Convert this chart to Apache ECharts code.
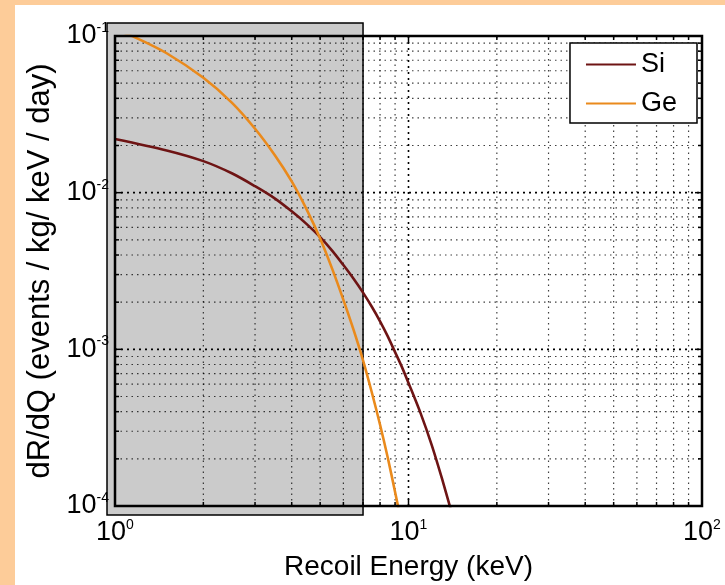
<!DOCTYPE html>
<html>
<head>
<meta charset="utf-8">
<script src="https://cdn.jsdelivr.net/npm/echarts@6/dist/echarts.min.js"></script>
<style>
html,body{margin:0;padding:0;background:#fdcc99;}
#chart{width:725px;height:585px;}
</style>
</head>
<body>
<div id="chart"></div>
<script>
// ---- data ----
const seriesNames = ['Si', 'Ge'];
const siData = [
  [1.0, 0.0220], [1.5, 0.0186], [2.0, 0.0159], [2.5, 0.0133], [3.0, 0.0110],
  [3.5, 0.0092], [4.0, 0.0076], [4.5, 0.0063], [5.0, 0.0052], [5.5, 0.00425],
  [6.0, 0.00345], [6.5, 0.00282], [7.0, 0.00230], [7.5, 0.00187], [8.0, 0.00151],
  [8.5, 0.00121], [9.0, 0.00096], [9.5, 0.00077], [10.0, 0.00061], [11.0, 0.00039],
  [12.0, 0.000245], [13.0, 0.000150], [14.0, 0.000092]
];
const geData = [
  [1.0, 0.110], [1.17, 0.098], [1.5, 0.0776], [2.0, 0.0541], [2.5, 0.0376],
  [3.0, 0.0256], [3.5, 0.0174], [4.0, 0.0118], [4.5, 0.0078], [5.0, 0.0051],
  [5.5, 0.00325], [6.0, 0.00207], [6.5, 0.00133], [7.0, 0.00085], [7.5, 0.00053],
  [8.0, 0.00033], [8.5, 0.000203], [9.0, 0.000123], [9.3, 0.000091]
];
const xTickValues = [1,2,3,4,5,6,7,8,9,10,20,30,40,50,60,70,80,90,100];
const yTickValues = [0.0001,0.0002,0.0003,0.0004,0.0005,0.0006,0.0007,0.0008,0.0009,
  0.001,0.002,0.003,0.004,0.005,0.006,0.007,0.008,0.009,
  0.01,0.02,0.03,0.04,0.05,0.06,0.07,0.08,0.09,0.1];
const xRange = [1, 100];
const yRange = [0.0001, 0.1];
const shadedRange = [1, 7]; // keV, threshold region
const xTitle = 'Recoil Energy (keV)';
const yTitle = 'dR/dQ (events / kg/ keV / day)';

// ---- styles ----
const FONT = 'Liberation Sans';
const siColor = '#6e1414';
const geColor = '#ea8a1c';

function isMajor(v) {
  const l = Math.log10(v);
  return Math.abs(l - Math.round(l)) < 1e-9;
}
function powLabel(v) {
  return '{b|10}{s|' + Math.round(Math.log10(v)) + '}';
}
const richLabel = {
  b: { fontSize: 27, fontFamily: FONT, color: '#000', lineHeight: 30 },
  s: { fontSize: 14, fontFamily: FONT, color: '#000', lineHeight: 14, verticalAlign: 'top', padding: [0, 0, 16, 0] }
};
function gridLineStyle(major) {
  return { stroke: '#000', lineWidth: major ? 1.6 : 1.2, lineDash: major ? [2, 4] : [1.5, 4], opacity: major ? 1 : 0.75 };
}

const chart = echarts.init(document.getElementById('chart'), null, { renderer: 'canvas' });

const option = {
  backgroundColor: '#fdcc99',
  animation: false,
  grid: {
    left: 115, right: 23, top: 36, bottom: 79,
    show: false,
    outerBoundsMode: 'none'
  },
  legend: {
    data: seriesNames,
    orient: 'vertical',
    right: 28, top: 43,
    backgroundColor: '#fff',
    borderColor: '#000', borderWidth: 1.5,
    padding: [8, 20, 6, 16],
    icon: 'rect',
    itemWidth: 50, itemHeight: 2, itemGap: 12, textGap: 16,
    textStyle: { fontSize: 27, fontFamily: FONT, color: '#000', lineHeight: 27 },
    z: 10
  },
  xAxis: {
    type: 'log', logBase: 10, min: xRange[0], max: xRange[1],
    name: xTitle, nameLocation: 'middle', nameGap: 40,
    nameTextStyle: { fontSize: 28, fontFamily: FONT, color: '#000' },
    axisLine: { show: false }, axisTick: { show: false }, splitLine: { show: false },
    axisLabel: { formatter: powLabel, rich: richLabel, margin: 12, color: '#000' }
  },
  yAxis: {
    type: 'log', logBase: 10, min: yRange[0], max: yRange[1],
    name: yTitle, nameLocation: 'middle', nameGap: 57,
    nameTextStyle: { fontSize: 31, fontFamily: FONT, color: '#000' },
    axisLine: { show: false }, axisTick: { show: false }, splitLine: { show: false },
    axisLabel: { formatter: powLabel, rich: richLabel, margin: 6, color: '#000' }
  },
  series: [
    {
      // shaded threshold box (behind everything inside the axes)
      type: 'custom', silent: true, z: 0, clip: false,
      encode: { x: [0, 2], y: [1, 3] },
      data: [[shadedRange[0], yRange[1], shadedRange[1], yRange[0]]],
      renderItem: function (params, api) {
        const a = api.coord([api.value(0), api.value(1)]);
        const b = api.coord([api.value(2), api.value(3)]);
        return { type: 'rect', z2: 0,
          shape: { x: a[0] - 8, y: a[1] - 13, width: b[0] - a[0] + 8, height: b[1] - a[1] + 22 },
          style: { fill: '#cbcbcb', stroke: '#000', lineWidth: 1.5 } };
      }
    },
    {
      type: 'custom', silent: true, z: 1, clip: false,
      data: xTickValues.map(v => [v, yRange[0]]),
      renderItem: function (params, api) {
        const v = api.value(0);
        const p1 = api.coord([v, yRange[1]]);
        const p0 = api.coord([v, yRange[0]]);
        const major = isMajor(v);
        const len = major ? 7 : 4;
        const ch = [];
        if (v > xRange[0] && v < xRange[1]) {
          ch.push({ type: 'line', shape: { x1: p0[0], y1: p0[1], x2: p1[0], y2: p1[1] }, style: gridLineStyle(major) });
        }
        ch.push({ type: 'line', shape: { x1: p0[0], y1: p0[1], x2: p0[0], y2: p0[1] - len }, style: { stroke: '#000', lineWidth: 1.5 } });
        ch.push({ type: 'line', shape: { x1: p1[0], y1: p1[1], x2: p1[0], y2: p1[1] + len }, style: { stroke: '#000', lineWidth: 1.5 } });
        return { type: 'group', children: ch };
      }
    },
    {
      type: 'custom', silent: true, z: 1, clip: false,
      data: yTickValues.map(v => [xRange[0], v]),
      renderItem: function (params, api) {
        const v = api.value(1);
        const p0 = api.coord([xRange[0], v]);
        const p1 = api.coord([xRange[1], v]);
        const major = isMajor(v);
        const len = major ? 7 : 4;
        const ch = [];
        if (v > yRange[0] && v < yRange[1]) {
          ch.push({ type: 'line', shape: { x1: p0[0], y1: p0[1], x2: p1[0], y2: p1[1] }, style: gridLineStyle(major) });
        }
        ch.push({ type: 'line', shape: { x1: p0[0], y1: p0[1], x2: p0[0] + len, y2: p0[1] }, style: { stroke: '#000', lineWidth: 1.5 } });
        ch.push({ type: 'line', shape: { x1: p1[0], y1: p1[1], x2: p1[0] - len, y2: p1[1] }, style: { stroke: '#000', lineWidth: 1.5 } });
        return { type: 'group', children: ch };
      }
    },
    {
      name: seriesNames[0], type: 'line', data: siData, z: 3,
      smooth: 0.3, showSymbol: false, symbol: 'none', clip: true,
      lineStyle: { color: siColor, width: 2.6 }, itemStyle: { color: siColor }
    },
    {
      name: seriesNames[1], type: 'line', data: geData, z: 3,
      smooth: 0.3, showSymbol: false, symbol: 'none', clip: true,
      lineStyle: { color: geColor, width: 2.6 }, itemStyle: { color: geColor }
    },
    {
      // axes frame
      type: 'custom', silent: true, z: 4, clip: false,
      encode: { x: [0, 2], y: [1, 3] },
      data: [[xRange[0], yRange[1], xRange[1], yRange[0]]],
      renderItem: function (params, api) {
        const a = api.coord([api.value(0), api.value(1)]);
        const b = api.coord([api.value(2), api.value(3)]);
        return { type: 'rect',
          shape: { x: a[0], y: a[1], width: b[0] - a[0], height: b[1] - a[1] },
          style: { fill: 'none', stroke: '#000', lineWidth: 2.5 } };
      }
    }
  ],
  graphic: {
    elements: [
      { type: 'rect', z: -20, silent: true, shape: { x: 15, y: 5, width: 710, height: 580 }, style: { fill: '#fff' } }
    ]
  }
};
chart.setOption(option);
</script>
</body>
</html>
